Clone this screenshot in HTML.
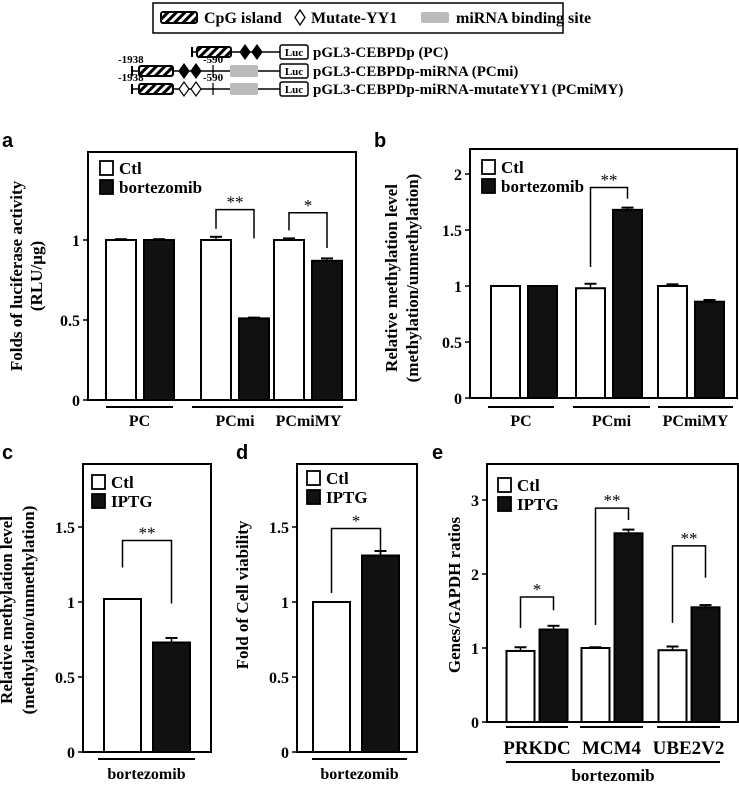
<!DOCTYPE html>
<html><head><meta charset="utf-8"><style>
html,body{margin:0;padding:0;background:#fff;}
svg{display:block;font-family:"Liberation Serif",serif;font-weight:bold;}
</style></head><body>
<svg id="fig" width="739" height="786" viewBox="0 0 739 786" xmlns="http://www.w3.org/2000/svg">
<defs>
<pattern id="hatch" width="6" height="6" patternUnits="userSpaceOnUse" patternTransform="rotate(45)">
<rect width="6" height="6" fill="#fff"/><rect width="3" height="6" fill="#000"/></pattern>
</defs>
<g id="diagram">
<rect x="153" y="3" width="410" height="30" fill="#fff" stroke="#000" stroke-width="1.5"/>
<rect x="161" y="12" width="36" height="11" rx="2" fill="url(#hatch)" stroke="#000" stroke-width="2"/>
<text x="204" y="23" font-size="16">CpG island</text>
<path d="M300 10 L305 17.5 L300 25 L295 17.5 Z" fill="#fff" stroke="#000" stroke-width="1.3"/>
<text x="311" y="23" font-size="16">Mutate-YY1</text>
<rect x="421" y="12" width="28" height="11" rx="2" fill="#bbb"/>
<text x="456" y="23" font-size="16">miRNA binding site</text>
</g>
<g id="charts"></g>
</svg>
<script>
const NS='http://www.w3.org/2000/svg';
function mk(tag,attrs,parent,text){const e=document.createElementNS(NS,tag);for(const k in attrs)e.setAttribute(k,attrs[k]);if(text!==undefined)e.textContent=text;(parent||document.getElementById('charts')).appendChild(e);return e;}
const dg=document.getElementById('diagram');
const rowLabels=['pGL3-CEBPDp (PC)','pGL3-CEBPDp-miRNA   (PCmi)','pGL3-CEBPDp-miRNA-mutateYY1  (PCmiMY)'];
const rowY=[52,71,89];
for(let r=0;r<3;r++){
  const y=rowY[r];const g=mk('g',{},dg);
  
  
  const x0=r===0?192:132;
  mk('line',{x1:x0,y1:y-5,x2:x0,y2:y+5,stroke:'#000','stroke-width':2},g);
  mk('line',{x1:x0,y1:y,x2:280,y2:y,stroke:'#000','stroke-width':1.5},g);
  const hx=r===0?197:139;
  mk('rect',{x:hx,y:y-5,width:34,height:10,rx:2,fill:'url(#hatch)',stroke:'#000','stroke-width':2},g);
  const dx=r===0?[245,257]:[184,196];
  const fill=r===2?'#fff':'#000';
  dx.forEach(d=>mk('path',{d:`M${d} ${y-7} L${d+5} ${y} L${d} ${y+7} L${d-5} ${y} Z`,fill:fill,stroke:'#000','stroke-width':1.2},g));
  if(r>0){
    mk('line',{x1:213,y1:y-6,x2:213,y2:y+6,stroke:'#000','stroke-width':1.3},g);
    mk('rect',{x:230,y:y-6,width:28,height:12,rx:2,fill:'#bbb'},g);
    mk('text',{x:118,y:y-8,'font-size':11},g,'-1938');
    mk('text',{x:203,y:y-8,'font-size':11},g,'-590');
  }
  mk('rect',{x:280,y:y-7,width:28,height:14,rx:2,fill:'#fff',stroke:'#000','stroke-width':1.5},g);
  mk('text',{x:294,y:y+4,'font-size':11,'text-anchor':'middle'},g,'Luc');
  mk('text',{x:313,y:y+5,'font-size':15},g,rowLabels[r]);
}

// ---- chart data ----
const catsA=['PC','PCmi','PCmiMY'];
const ctlA=[1.0,1.0,1.0];
const ctlErrA=[0.005,0.02,0.01];
const trtA=[1.0,0.51,0.87];
const trtErrA=[0.005,0.005,0.015];
const ticksA=[0,0.5,1];

const catsB=['PC','PCmi','PCmiMY'];
const ctlB=[1.0,0.98,1.0];
const ctlErrB=[0,0.04,0.015];
const trtB=[1.0,1.68,0.86];
const trtErrB=[0,0.02,0.015];
const ticksB=[0,0.5,1,1.5,2];

const catsC=['bortezomib'];
const ctlC=[1.02];
const ctlErrC=[0];
const trtC=[0.73];
const trtErrC=[0.03];
const ticksC=[0,0.5,1,1.5];

const catsD=['bortezomib'];
const ctlD=[1.0];
const ctlErrD=[0];
const trtD=[1.31];
const trtErrD=[0.03];
const ticksD=[0,0.5,1,1.5];

const catsE=['PRKDC','MCM4','UBE2V2'];
const ctlE=[0.96,1.0,0.97];
const ctlErrE=[0.05,0.01,0.05];
const trtE=[1.25,2.55,1.55];
const trtErrE=[0.05,0.05,0.03];
const ticksE=[0,1,2,3];

// brackets: [groupIndex, topValue, leftLegEndValue, rightLegEndValue, label]
const bracketsA=[[1,1.19,1.07,1.01,'**'],[2,1.17,1.06,0.95,'*']];
const bracketsB=[[1,1.88,1.17,1.78,'**']];
const bracketsC=[[0,1.41,1.23,0.99,'**']];
const bracketsD=[[0,1.49,1.06,1.31,'*']];
const bracketsE=[[0,1.69,1.27,1.51,'*'],[1,2.89,1.31,2.73,'**'],[2,2.38,1.34,1.95,'**']];

// ---- layout (not data) ----
const panels=[
 {id:'a',letter:'a',lx:2,ly:147,box:[88,152,356,400],zero:400,ppu:160,centers:[140,235,308],bw:30,gap:4,
  cats:catsA,ctl:ctlA,ctlErr:ctlErrA,trt:trtA,trtErr:trtErrA,ticks:ticksA,br:bracketsA,legend:['Ctl','bortezomib'],lg:[100,161],
  titles:['Folds of luciferase activity','(RLU/µg)'],tx:[22,42],ty:276,groupLine:[[106,173],[192,278],[274,343]],gy:407,labY:426},
 {id:'b',letter:'b',lx:374,ly:147,box:[470,149,737,398],zero:398,ppu:112,centers:[524,609,691],bw:29,gap:4,
  cats:catsB,ctl:ctlB,ctlErr:ctlErrB,trt:trtB,trtErr:trtErrB,ticks:ticksB,br:bracketsB,legend:['Ctl','bortezomib'],lg:[482,160],
  titles:['Relative methylation level','(methylation/unmethylation)'],tx:[397,418],ty:278,groupLine:[[488,554],[573,650],[658,733]],gy:407,labY:426},
 {id:'c',letter:'c',lx:2,ly:459,box:[83,464,211,752],zero:752,ppu:150,centers:[147],bw:37,gap:6,
  cats:catsC,ctl:ctlC,ctlErr:ctlErrC,trt:trtC,trtErr:trtErrC,ticks:ticksC,br:bracketsC,legend:['Ctl','IPTG'],lg:[92,475],
  titles:['Relative methylation level','(methylation/unmethylation)'],tx:[12,34],ty:610,groupLine:[[98,195]],gy:759,labY:779},
 {id:'d',letter:'d',lx:236,ly:459,box:[297,464,417,752],zero:752,ppu:150,centers:[356],bw:37,gap:6,
  cats:catsD,ctl:ctlD,ctlErr:ctlErrD,trt:trtD,trtErr:trtErrD,ticks:ticksD,br:bracketsD,legend:['Ctl','IPTG'],lg:[307,471],
  titles:['Fold of  Cell  viability'],tx:[248],ty:595,groupLine:[[312,407]],gy:759,labY:779},
 {id:'e',letter:'e',lx:432,ly:459,box:[487,464,738,722],zero:722,ppu:74,centers:[537,612,689],bw:28,gap:2.5,
  cats:catsE,ctl:ctlE,ctlErr:ctlErrE,trt:trtE,trtErr:trtErrE,ticks:ticksE,br:bracketsE,legend:['Ctl','IPTG'],lg:[498,478],
  titles:['Genes/GAPDH ratios'],tx:[460],ty:595,groupLine:[[506,568],[580,643],[657,720]],gy:727,labY:754,outer:[506,720,762,781]}
];

panels.forEach(p=>{
  const g=mk('g',{});
  
  
  const y=v=>p.zero-v*p.ppu;
  const [bx0,by0,bx1,by1]=p.box;
  const L=mk('text',{x:p.lx,y:p.ly,'font-size':20,'font-family':'Liberation Sans,sans-serif'},g,p.letter);
  
  
  const fr=mk('rect',{x:bx0,y:by0,width:bx1-bx0,height:by1-by0,fill:'none',stroke:'#000','stroke-width':2},g);
  
  
  p.ticks.forEach(t=>{
    mk('line',{x1:bx0-5,x2:bx0,y1:y(t),y2:y(t),stroke:'#000','stroke-width':1.5},g);
    const tl=mk('text',{x:bx0-8,y:y(t)+6,'font-size':16,'text-anchor':'end'},g,String(t));
    
    
  });
  p.titles.forEach((t,i)=>{
    const tt=mk('text',{x:p.tx[i],y:p.ty,'font-size':17,'text-anchor':'middle',transform:`rotate(-90 ${p.tx[i]} ${p.ty})`},g,t);
    
    
  });
  p.cats.forEach((c,i)=>{
    const cx=p.centers[i];
    const series=[[p.ctl[i],p.ctlErr[i],'#fff',cx-p.gap-p.bw],[p.trt[i],p.trtErr[i],'#111',cx+p.gap]];
    series.forEach((s,k)=>{
      const [v,e,f,x]=s;
      if(e>0){
        mk('line',{x1:x+p.bw/2,x2:x+p.bw/2,y1:y(v),y2:y(v+e),stroke:'#000','stroke-width':1.5},g);
        mk('line',{x1:x+p.bw/2-6,x2:x+p.bw/2+6,y1:y(v+e),y2:y(v+e),stroke:'#000','stroke-width':2},g);
      }
      const b=mk('rect',{x:x,y:y(v),width:p.bw,height:v*p.ppu,fill:f,stroke:'#000','stroke-width':2},g);
      
      
    });
    const gl=p.groupLine[i];
    mk('line',{x1:gl[0],x2:gl[1],y1:p.gy,y2:p.gy,stroke:'#000','stroke-width':2},g);
    const cl=mk('text',{x:(gl[0]+gl[1])/2,y:p.labY,'font-size':p.id==='e'?19:16,'text-anchor':'middle'},g,c);
    
    
  });
  if(p.outer){
    mk('line',{x1:p.outer[0],x2:p.outer[1],y1:p.outer[2],y2:p.outer[2],stroke:'#000','stroke-width':2},g);
    const ol=mk('text',{x:(p.outer[0]+p.outer[1])/2,y:p.outer[3],'font-size':17,'text-anchor':'middle'},g,'bortezomib');
    
    
  }
  p.br.forEach(b=>{
    const [gi,top,le,re,lab]=b;
    const cx=p.centers[gi];
    const xl=cx-p.gap-p.bw/2, xr=cx+p.gap+p.bw/2;
    const pb=mk('path',{d:`M${xl} ${y(le)} L${xl} ${y(top)} L${xr} ${y(top)} L${xr} ${y(re)}`,fill:'none',stroke:'#000','stroke-width':1.5},g);
    
    
    mk('text',{x:(xl+xr)/2,y:y(top)-2,'font-size':17,'text-anchor':'middle','font-weight':'normal'},g,lab);
  });
  const [lx,ly]=p.lg;
  p.legend.forEach((t,i)=>{
    const r=mk('rect',{x:lx,y:ly+i*19,width:13,height:14,fill:i?'#111':'#fff',stroke:'#000','stroke-width':1.8},g);
    
    
    const tx=mk('text',{x:lx+19,y:ly+i*19+13,'font-size':17},g,t);
    
    
  });
});
</script>
</body></html>
